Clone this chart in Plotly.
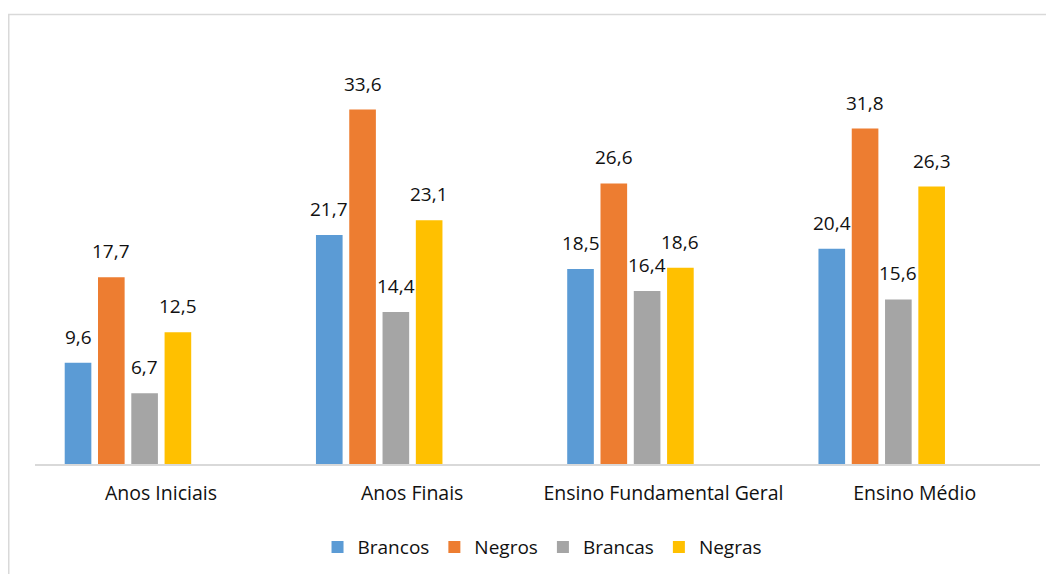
import plotly.graph_objects as go

categories = ["Anos Iniciais", "Anos Finais", "Ensino Fundamental Geral", "Ensino Médio"]
series_names = ["Brancos", "Negros", "Brancas", "Negras"]
brancos = [9.6, 21.7, 18.5, 20.4]
negros = [17.7, 33.6, 26.6, 31.8]
brancas = [6.7, 14.4, 16.4, 15.6]
negras = [12.5, 23.1, 18.6, 26.3]

colors = ["#5B9BD5", "#ED7D31", "#A5A5A5", "#FFC000"]
series_values = [brancos, negros, brancas, negras]

BARGAP = 0.47
BARGROUPGAP = 0.2
FONT = "Open Sans"
TXT = "#111111"

# plot-area geometry (px, figure coordinates)
L, R, T, B = 27, 22, 32, 118
W, H = 1054, 574
PW, PH = W - L - R, H - T - B

fig = go.Figure()
for name, vals, col in zip(series_names, series_values, colors):
    fig.add_trace(go.Bar(x=categories, y=vals, name=name, marker_color=col,
                         marker_line_width=0, hoverinfo="skip"))

# data labels above bars
n = len(series_names)
slot = (1 - BARGAP) / n
annotations = []
for i, vals in enumerate(series_values):
    off = (i - (n - 1) / 2) * slot
    for j, v in enumerate(vals):
        annotations.append(dict(
            x=j + off, y=v, xref="x", yref="y",
            text=f"{v:.1f}".replace(".", ","),
            showarrow=False, yanchor="bottom", yshift=11,
            font=dict(family=FONT, size=19, color=TXT)))

fig.update_layout(
    width=W, height=H,
    margin=dict(l=L, r=R, t=T, b=B),
    paper_bgcolor="white", plot_bgcolor="white",
    barmode="group", bargap=BARGAP, bargroupgap=BARGROUPGAP,
    showlegend=True,
    legend=dict(orientation="h", x=0.505, xanchor="center", y=-0.196, yanchor="middle",
                font=dict(family=FONT, size=19, color=TXT), traceorder="normal"),
    annotations=annotations,
    xaxis=dict(type="category", range=[-0.37, 3.63], showgrid=False, zeroline=False,
               showline=True, linecolor="#d9d9d9", linewidth=2, ticks="",
               ticklabelshift=33, ticklabelstandoff=11,
               tickfont=dict(family=FONT, size=19.5, color=TXT), fixedrange=True),
    yaxis=dict(range=[0, 40.2], visible=False, showgrid=False, zeroline=False, fixedrange=True),
    shapes=[dict(type="rect", xref="paper", yref="paper",
                 x0=(0.75 - L) / PW, x1=1.2, y0=-0.5, y1=(H - B - 6.5) / PH,
                 line=dict(color="#d9d9d9", width=1.5), fillcolor="rgba(0,0,0,0)", layer="below")],
)

fig.write_html("out.html")
